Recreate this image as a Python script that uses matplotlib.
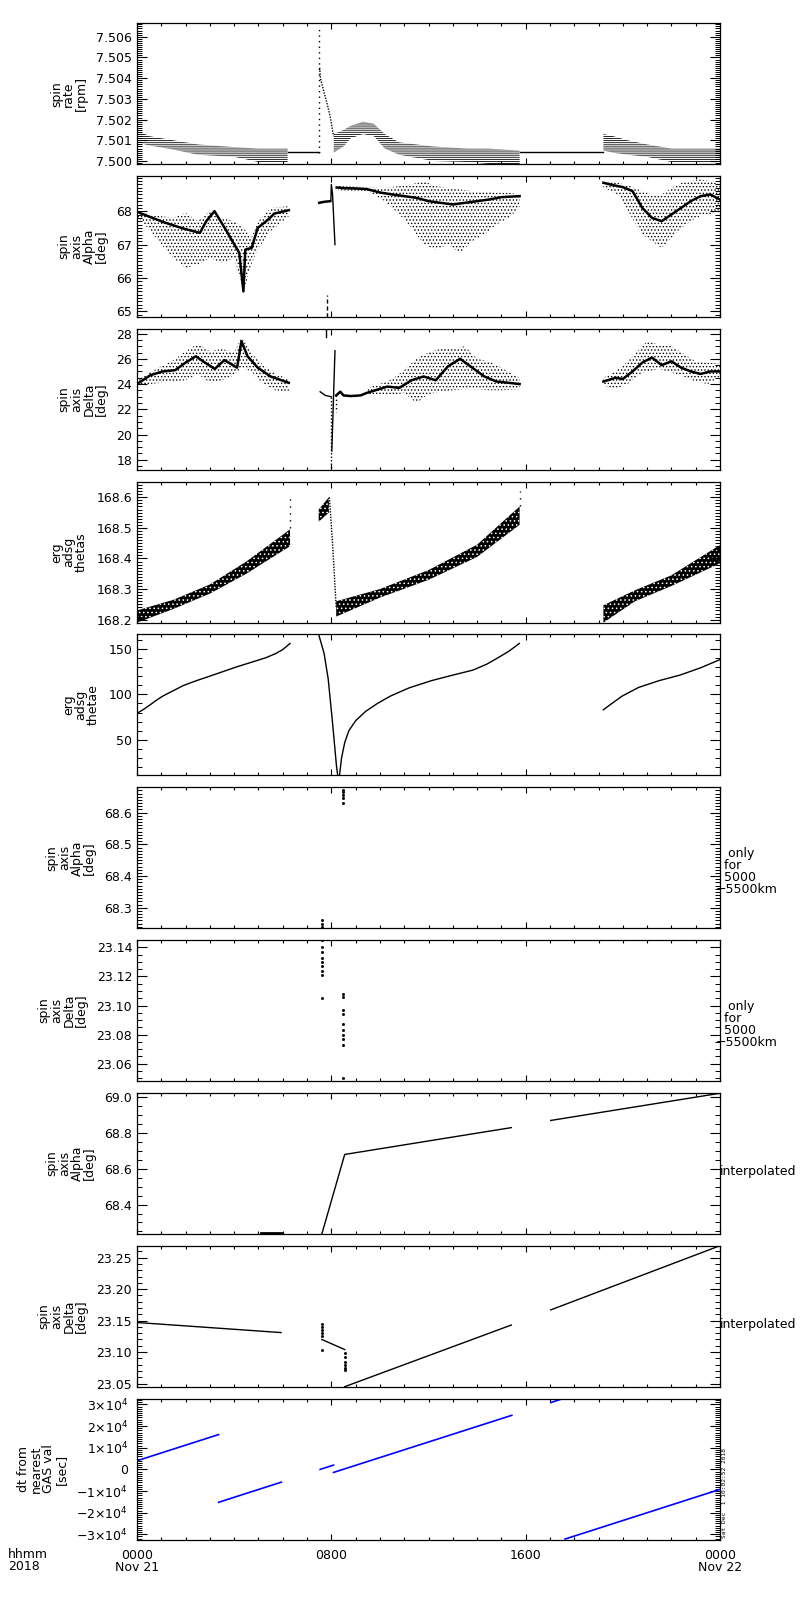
import matplotlib
matplotlib.use('Agg')
import matplotlib.pyplot as plt
from matplotlib.ticker import FixedLocator, MultipleLocator, FormatStrFormatter, FixedFormatter

plt.rcParams['font.family'] = ['DejaVu Sans']
plt.rcParams['font.size'] = 9
plt.rcParams['hatch.linewidth'] = 0.6
plt.rcParams['axes.linewidth'] = 0.9

# ---------------- time axis ----------------
x_major = [0, 8, 16, 24]
x_labels = ["0000\nNov 21", "0800", "1600", "0000\nNov 22"]

# ---------------- panel 1: spin rate ----------------
p1_a_t = [0, 0.5, 1.5, 2.5, 4.0, 5.0, 6.2]
p1_a_hi = [7.5015, 7.5012, 7.5010, 7.5008, 7.50067, 7.5006, 7.5006]
p1_a_lo = [7.5009, 7.50075, 7.50055, 7.5003, 7.5002, 7.49995, 7.4999]
p1_flat1_t = [6.2, 7.48]
p1_flat1_v = [7.50044, 7.50044]
p1_spike_t = [7.48, 7.48]
p1_spike_v = [7.5004, 7.5064]
p1_fall_t = [7.52, 7.55, 7.7, 7.82, 7.96, 8.09]
p1_fall_v = [7.5045, 7.5040, 7.5033, 7.5028, 7.5021, 7.5012]
p1_b_t = [8.1, 8.5, 8.8, 9.3, 9.75, 10.2, 10.8, 12.2, 13.6, 14.5, 15.75]
p1_b_hi = [7.5013, 7.5015, 7.5017, 7.5019, 7.5018, 7.5013, 7.5009, 7.5007, 7.5006, 7.5006, 7.5005]
p1_b_lo = [7.5004, 7.5007, 7.5011, 7.5013, 7.5012, 7.5006, 7.5003, 7.5000, 7.49995, 7.49985, 7.49985]
p1_flat2_t = [15.75, 19.2]
p1_flat2_v = [7.50044, 7.50044]
p1_c_t = [19.2, 19.6, 20.2, 21.0, 22.0, 23.0, 24.0]
p1_c_hi = [7.5013, 7.5012, 7.5010, 7.5008, 7.5006, 7.5006, 7.5006]
p1_c_lo = [7.5005, 7.5004, 7.5003, 7.5002, 7.49995, 7.4999, 7.4999]

# ---------------- panel 2: spin axis Alpha ----------------
p2_a_t = [0, 0.5, 1, 1.5, 2, 2.5, 3, 3.5, 4, 4.4, 4.7, 5, 5.5, 6.25]
p2_a_hi = [68.0, 67.9, 67.85, 67.8, 67.95, 67.7, 68.0, 67.8, 67.7, 67.5, 67.2, 67.7, 68.1, 68.15]
p2_a_lo = [67.85, 67.45, 67.0, 66.6, 66.3, 66.4, 66.6, 66.45, 66.6, 65.6, 66.4, 66.9, 67.4, 67.85]
p2_a_core_t = [0, 1.06, 1.91, 2.59, 2.85, 3.19, 3.61, 4.21, 4.38, 4.46, 4.72, 4.97, 5.32, 5.66, 6.25]
p2_a_core_v = [67.98, 67.68, 67.48, 67.35, 67.70, 68.0, 67.5, 66.75, 65.6, 66.85, 66.9, 67.5, 67.7, 67.93, 68.03]
p2_short_t = [7.5, 7.7, 7.95]
p2_short_v = [68.25, 68.28, 68.3]
p2_jump_t = [7.98, 8.0, 8.05, 8.15]
p2_jump_v = [68.3, 68.8, 68.5, 67.0]
p2_dash_t = [7.81, 7.81]
p2_dash_v = [64.83, 65.48]
p2_b_core_t = [8.22, 8.5, 9.0, 9.46, 10.0, 10.5, 11.0, 11.5, 12.0, 12.5, 13.0, 13.5, 14.0, 14.5, 15.0, 15.75]
p2_b_core_v = [68.71, 68.69, 68.68, 68.66, 68.56, 68.5, 68.45, 68.4, 68.3, 68.25, 68.2, 68.25, 68.3, 68.35, 68.42, 68.45]
p2_b_t = [8.3, 9.5, 10.2, 10.8, 11.3, 11.8, 12.3, 12.8, 13.3, 13.8, 14.3, 14.8, 15.3, 15.75]
p2_b_hi = [68.75, 68.72, 68.7, 68.75, 68.8, 68.9, 68.75, 68.7, 68.65, 68.6, 68.6, 68.55, 68.55, 68.5]
p2_b_lo = [68.62, 68.6, 68.3, 67.9, 67.5, 67.0, 66.85, 67.0, 66.75, 67.1, 67.3, 67.6, 67.8, 68.1]
p2_c_core_t = [19.2, 19.6, 20.0, 20.4, 20.8, 21.2, 21.6, 22.0, 22.4, 22.8, 23.2, 23.6, 24.0]
p2_c_core_v = [68.85, 68.78, 68.72, 68.6, 68.1, 67.8, 67.7, 67.9, 68.1, 68.3, 68.45, 68.5, 68.35]
p2_c_t = [19.2, 19.8, 20.3, 20.8, 21.2, 21.6, 22.0, 22.4, 22.8, 23.2, 23.6, 24.0]
p2_c_hi = [68.9, 68.85, 68.75, 68.6, 68.5, 68.5, 68.7, 68.85, 68.9, 68.95, 68.9, 68.8]
p2_c_lo = [68.7, 68.5, 67.9, 67.3, 67.1, 66.9, 67.2, 67.5, 67.7, 67.85, 67.9, 68.05]

# ---------------- panel 3: spin axis Delta ----------------
p3_a_core_t = [0, 0.55, 1.06, 1.57, 2.0, 2.42, 2.8, 3.2, 3.6, 4.12, 4.3, 4.55, 4.97, 5.5, 6.25]
p3_a_core_v = [24.0, 24.7, 25.0, 25.1, 25.7, 26.2, 25.7, 25.2, 25.9, 25.3, 27.4, 26.2, 25.3, 24.6, 24.1]
p3_a_t = [0, 0.5, 1.0, 1.5, 2.0, 2.5, 3.0, 3.5, 4.0, 4.3, 4.7, 5.2, 5.7, 6.25]
p3_a_hi = [24.3, 24.9, 25.4, 25.9, 26.6, 27.2, 26.6, 26.8, 26.5, 27.7, 26.5, 25.5, 24.8, 24.4]
p3_a_lo = [23.8, 24.0, 24.1, 24.2, 24.3, 24.8, 24.1, 24.3, 24.7, 25.3, 25.0, 24.0, 23.5, 23.4]
p3_short_t = [7.54, 7.75, 8.0]
p3_short_v = [23.39, 23.1, 22.99]
p3_drop_t = [7.99, 7.99]
p3_drop_v = [23.0, 17.2]
p3_rise_t = [8.02, 8.15]
p3_rise_v = [18.7, 26.64]
p3_top_t = [7.8, 7.8]
p3_top_v = [27.76, 28.37]
p3_dots_t = [8.2, 8.2]
p3_dots_v = [23.1, 21.8]
p3_b_core_t = [8.2, 8.37, 8.5, 8.8, 9.2, 9.46, 9.8, 10.3, 10.8, 11.3, 11.8, 12.3, 12.8, 13.3, 13.8, 14.3, 14.8, 15.3, 15.75]
p3_b_core_v = [23.1, 23.4, 23.1, 23.05, 23.1, 23.3, 23.5, 23.8, 23.7, 24.3, 24.6, 24.3, 25.4, 26.0, 25.3, 24.6, 24.2, 24.1, 24.0]
p3_b_t = [9.5, 10.0, 10.5, 11.0, 11.5, 12.0, 12.5, 13.0, 13.5, 14.0, 14.5, 15.0, 15.75]
p3_b_hi = [23.7, 24.0, 24.4, 25.1, 26.0, 26.5, 26.8, 26.8, 27.0, 26.0, 25.8, 25.3, 24.5]
p3_b_lo = [23.1, 23.2, 23.1, 23.3, 22.5, 23.2, 23.4, 23.5, 23.6, 23.6, 23.5, 23.5, 23.6]
p3_c_core_t = [19.2, 19.7, 20.0, 20.4, 20.8, 21.2, 21.6, 22.0, 22.4, 22.8, 23.2, 23.6, 24.0]
p3_c_core_v = [24.2, 24.5, 24.4, 25.0, 25.7, 26.1, 25.5, 25.8, 25.3, 25.0, 24.8, 25.0, 25.0]
p3_c_t = [19.2, 19.7, 20.2, 20.7, 21.0, 21.5, 22.0, 22.5, 23.0, 23.5, 24.0]
p3_c_hi = [24.5, 25.0, 25.8, 26.8, 27.4, 27.1, 27.0, 26.4, 25.8, 25.7, 25.6]
p3_c_lo = [23.9, 23.6, 24.0, 24.8, 25.0, 25.2, 24.9, 24.6, 24.2, 24.0, 24.6]

# ---------------- panel 4: erg adsg thetas ----------------
p4_a_t = [0, 1.5, 3.0, 4.5, 6.3]
p4_a_lo = [168.19, 168.235, 168.285, 168.35, 168.44]
p4_a_hi = [168.23, 168.265, 168.315, 168.39, 168.495]
p4_a_dots_t = [6.3, 6.3]
p4_a_dots_v = [168.5, 168.61]
p4_b_t = [7.48, 7.9]
p4_b_lo = [168.52, 168.55]
p4_b_hi = [168.56, 168.6]
p4_drop_t = [7.92, 8.05, 8.2]
p4_drop_v = [168.6, 168.45, 168.24]
p4_b2_t = [8.2, 10.0, 12.0, 14.0, 15.75]
p4_b2_lo = [168.21, 168.272, 168.33, 168.405, 168.51]
p4_b2_hi = [168.26, 168.30, 168.362, 168.445, 168.57]
p4_b2_dots_t = [15.78, 15.78]
p4_b2_dots_v = [168.57, 168.62]
p4_c_t = [19.2, 20.5, 22.0, 24.0]
p4_c_lo = [168.19, 168.26, 168.31, 168.384]
p4_c_hi = [168.247, 168.296, 168.345, 168.444]

# ---------------- panel 5: erg adsg thetae ----------------
p5_a_t = [0, 0.3, 0.55, 0.8, 1.06, 1.5, 1.9, 2.4, 2.9, 3.5, 4.1, 4.7, 5.3, 5.7, 6.0, 6.3]
p5_a_v = [79, 84, 88.6, 93.5, 98, 104, 109.5, 114.5, 119, 124.5, 130, 135, 140, 144.5, 149, 155.7]
p5_b_t = [7.48, 7.7, 7.87, 8.04, 8.21, 8.3, 8.42, 8.55, 8.72, 9.0, 9.4, 9.9, 10.43, 11.2,
          12.13, 13.0, 13.83, 14.4, 14.86, 15.3, 15.74]
p5_b_v = [165.5, 145, 117, 71.6, 22, 3, 30, 47, 60, 71, 81, 90, 98, 107,
          115, 121, 126.5, 133, 140, 147, 155.7]
p5_c_t = [19.2, 19.5, 19.97, 20.65, 21.5, 22.35, 23.2, 24.0]
p5_c_v = [83, 89, 98, 107.5, 115, 121, 129, 138]

# ---------------- panel 6: Alpha only for 5000-5500 km ----------------
p6_t = [7.63, 7.63, 7.63, 8.49, 8.49, 8.49, 8.49, 8.5]
p6_v = [68.24, 68.25, 68.26, 68.63, 68.645, 68.655, 68.665, 68.672]

# ---------------- panel 7: Delta only for 5000-5500 km ----------------
p7_t = [7.63, 7.63, 7.63, 7.63, 7.63, 7.63, 7.63, 7.63, 7.63,
        8.5, 8.5, 8.5, 8.5, 8.5, 8.5, 8.5, 8.5, 8.5, 8.5]
p7_v = [23.145, 23.14, 23.137, 23.133, 23.13, 23.127, 23.124, 23.121, 23.105,
        23.108, 23.106, 23.097, 23.094, 23.087, 23.083, 23.080, 23.077, 23.073, 23.05]

# ---------------- panel 8: Alpha interpolated ----------------
p8_s1_t = [5.1, 5.93]
p8_s1_v = [68.24, 68.24]
p8_s2_t = [7.61, 8.55, 15.41]
p8_s2_v = [68.236, 68.68, 68.83]
p8_s3_t = [17.03, 24.0]
p8_s3_v = [68.87, 69.022]

# ---------------- panel 9: Delta interpolated ----------------
p9_s1_t = [0, 5.93]
p9_s1_v = [23.147, 23.131]
p9_d1_t = [7.61, 7.61, 7.61, 7.61, 7.61, 7.61]
p9_d1_v = [23.145, 23.14, 23.135, 23.13, 23.125, 23.104]
p9_s2_t = [7.61, 8.55]
p9_s2_v = [23.12, 23.104]
p9_d2_t = [8.55, 8.55, 8.55, 8.55, 8.55, 8.55]
p9_d2_v = [23.098, 23.092, 23.085, 23.08, 23.075, 23.071]
p9_s3_t = [8.55, 15.41]
p9_s3_v = [23.045, 23.143]
p9_s4_t = [17.03, 24.0]
p9_s4_v = [23.167, 23.269]

# ---------------- panel 10: dt from nearest GAS val ----------------
p10_segs_t = [[0, 3.36], [3.36, 5.94], [7.54, 8.09], [8.09, 15.43], [17.04, 17.5], [17.62, 24.0]]
p10_segs_v = [[4000, 16100], [-15200, -5900], [0, 1980], [-1400, 25000], [30900, 32600], [-32200, -9230]]
p10_ticks = [-30000, -20000, -10000, 0, 10000, 20000, 30000]
p10_labels = ['−3×10$^{4}$', '−2×10$^{4}$', '−1×10$^{4}$', '0',
              '1×10$^{4}$', '2×10$^{4}$', '3×10$^{4}$']

# ---------------- y-axis setup per panel ----------------
ylabels = ["spin\nrate\n[rpm]", "spin\naxis\nAlpha\n[deg]", "spin\naxis\nDelta\n[deg]",
           "erg\nadsg\nthetas", "erg\nadsg\nthetae", "spin\naxis\nAlpha\n[deg]",
           "spin\naxis\nDelta\n[deg]", "spin\naxis\nAlpha\n[deg]", "spin\naxis\nDelta\n[deg]",
           "dt from\nnearest\nGAS val\n[sec]"]
ylims = [(7.49984, 7.50665), (64.83, 69.05), (17.2, 28.37), (168.19, 168.651), (11, 165.5),
         (68.235, 68.68), (23.048, 23.145), (68.236, 69.024), (23.045, 23.269), (-32400, 32770)]
yticks = [[7.500, 7.501, 7.502, 7.503, 7.504, 7.505, 7.506], [65, 66, 67, 68],
          [18, 20, 22, 24, 26, 28], [168.2, 168.3, 168.4, 168.5, 168.6], [50, 100, 150],
          [68.3, 68.4, 68.5, 68.6], [23.06, 23.08, 23.10, 23.12, 23.14],
          [68.4, 68.6, 68.8, 69.0], [23.05, 23.10, 23.15, 23.20, 23.25], p10_ticks]
yminor = [0.0001, 0.1, 0.5, 0.01, 10, 0.01, 0.005, 0.05, 0.01, 1000]
yfmt = ['%.3f', '%d', '%d', '%.1f', '%d', '%.1f', '%.2f', '%.1f', '%.2f', None]

fig = plt.figure(figsize=(8, 16), dpi=100)
W, H = 800.0, 1600.0
axes = []
for i in range(10):
    top = 23.3 + 152.8 * i
    h = 141.0
    ax = fig.add_axes([137 / W, 1 - (top + h) / H, 583 / W, h / H])
    ax.set_xlim(0, 24)
    ax.set_ylim(*ylims[i])
    ax.xaxis.set_major_locator(FixedLocator(x_major))
    ax.xaxis.set_minor_locator(MultipleLocator(1))
    ax.yaxis.set_major_locator(FixedLocator(yticks[i]))
    ax.yaxis.set_minor_locator(MultipleLocator(yminor[i]))
    ax.tick_params(which='both', direction='in', top=True, right=True, width=0.8, pad=3.5)
    ax.tick_params(axis='y', which='major', length=7.2)
    ax.tick_params(axis='y', which='minor', length=3.6, width=0.7)
    ax.tick_params(axis='x', which='major', length=4.5)
    ax.tick_params(axis='x', which='minor', length=2.4)
    ax.tick_params(labelbottom=False)
    if yfmt[i] is not None:
        ax.yaxis.set_major_formatter(FormatStrFormatter(yfmt[i]))
    else:
        ax.yaxis.set_major_formatter(FixedFormatter(p10_labels))
    ax.set_ylabel(ylabels[i], linespacing=0.95, labelpad=6)
    axes.append(ax)

K = 'black'
LW = 1.0
CORE = 1.8


def cloud(ax, t, lo, hi, hatch):
    ax.fill_between(t, lo, hi, facecolor='none', edgecolor=K, hatch=hatch, linewidth=0)


# panel 1
ax = axes[0]
cloud(ax, p1_a_t, p1_a_lo, p1_a_hi, '--------')
cloud(ax, p1_b_t, p1_b_lo, p1_b_hi, '--------')
cloud(ax, p1_c_t, p1_c_lo, p1_c_hi, '--------')
ax.plot(p1_flat1_t, p1_flat1_v, color=K, lw=LW)
ax.plot(p1_flat2_t, p1_flat2_v, color=K, lw=LW)
ax.plot(p1_spike_t, p1_spike_v, color=K, lw=LW, ls=(0, (1, 3)))
ax.plot(p1_fall_t, p1_fall_v, color=K, lw=LW, ls=(0, (1, 1)))

# panel 2
ax = axes[1]
cloud(ax, p2_a_t, p2_a_lo, p2_a_hi, '.....')
cloud(ax, p2_b_t, p2_b_lo, p2_b_hi, '.....')
cloud(ax, p2_c_t, p2_c_lo, p2_c_hi, '.....')
ax.plot(p2_a_core_t, p2_a_core_v, color=K, lw=CORE)
ax.plot(p2_b_core_t, p2_b_core_v, color=K, lw=CORE)
ax.plot(p2_c_core_t, p2_c_core_v, color=K, lw=CORE)
ax.plot(p2_short_t, p2_short_v, color=K, lw=CORE)
ax.plot(p2_jump_t, p2_jump_v, color=K, lw=LW)
ax.plot(p2_dash_t, p2_dash_v, color=K, lw=LW, ls=(0, (3, 2)))

# panel 3
ax = axes[2]
cloud(ax, p3_a_t, p3_a_lo, p3_a_hi, '.....')
cloud(ax, p3_b_t, p3_b_lo, p3_b_hi, '.....')
cloud(ax, p3_c_t, p3_c_lo, p3_c_hi, '.....')
ax.plot(p3_a_core_t, p3_a_core_v, color=K, lw=CORE)
ax.plot(p3_b_core_t, p3_b_core_v, color=K, lw=CORE)
ax.plot(p3_c_core_t, p3_c_core_v, color=K, lw=CORE)
ax.plot(p3_short_t, p3_short_v, color=K, lw=LW)
ax.plot(p3_drop_t, p3_drop_v, color=K, lw=LW, ls=(0, (1, 1.5)))
ax.plot(p3_rise_t, p3_rise_v, color=K, lw=LW)
ax.plot(p3_top_t, p3_top_v, color=K, lw=LW)
ax.plot(p3_dots_t, p3_dots_v, color=K, lw=LW, ls=(0, (1, 2)))

# panel 4
ax = axes[3]
for t, lo, hi in [(p4_a_t, p4_a_lo, p4_a_hi), (p4_b_t, p4_b_lo, p4_b_hi),
                  (p4_b2_t, p4_b2_lo, p4_b2_hi), (p4_c_t, p4_c_lo, p4_c_hi)]:
    ax.fill_between(t, lo, hi, facecolor=K, edgecolor='white', hatch='....', linewidth=0)
ax.plot(p4_a_dots_t, p4_a_dots_v, color=K, lw=LW, ls=(0, (1, 4)))
ax.plot(p4_b2_dots_t, p4_b2_dots_v, color=K, lw=LW, ls=(0, (1, 4)))
ax.plot(p4_drop_t, p4_drop_v, color=K, lw=LW, ls=(0, (1, 1)))

# panel 5
ax = axes[4]
ax.plot(p5_a_t, p5_a_v, color=K, lw=LW)
ax.plot(p5_b_t, p5_b_v, color=K, lw=LW)
ax.plot(p5_c_t, p5_c_v, color=K, lw=LW)

# panel 6 / 7
axes[5].plot(p6_t, p6_v, ls='none', marker='s', ms=1.0, color=K)
axes[6].plot(p7_t, p7_v, ls='none', marker='s', ms=1.0, color=K)

# panel 8
ax = axes[7]
ax.plot(p8_s1_t, p8_s1_v, color=K, lw=2.0)
ax.plot(p8_s2_t, p8_s2_v, color=K, lw=LW)
ax.plot(p8_s3_t, p8_s3_v, color=K, lw=LW)

# panel 9
ax = axes[8]
ax.plot(p9_s1_t, p9_s1_v, color=K, lw=LW)
ax.plot(p9_d1_t, p9_d1_v, ls='none', marker='s', ms=1.0, color=K)
ax.plot(p9_s2_t, p9_s2_v, color=K, lw=LW)
ax.plot(p9_d2_t, p9_d2_v, ls='none', marker='s', ms=1.0, color=K)
ax.plot(p9_s3_t, p9_s3_v, color=K, lw=LW)
ax.plot(p9_s4_t, p9_s4_v, color=K, lw=LW)

# panel 10
ax = axes[9]
for t, v in zip(p10_segs_t, p10_segs_v):
    ax.plot(t, v, color='#0000ff', lw=1.2)
ax.tick_params(labelbottom=True, pad=6.5)
ax.xaxis.set_major_formatter(FixedFormatter(x_labels))
for lbl in ax.get_xticklabels():
    lbl.set_linespacing(0.95)

# right-side notes
for i in (5, 6):
    axes[i].text(1 - 4 / 583, 0.40, "   only\n  for\n  5000\n−5500km", transform=axes[i].transAxes,
                 ha='left', va='center', linespacing=0.9, multialignment='left')
for i in (7, 8):
    axes[i].text(1.0, 0.44, "interpolated", transform=axes[i].transAxes, ha='left', va='center')

fig.text(8 / W, 1 - 1548 / H, "hhmm\n2018", ha='left', va='top', linespacing=0.95)
fig.text(722.5 / W, 1 - 1538 / H, "Sat Dec  1 10:02:52 2018", rotation=90, ha='left', va='bottom',
         fontsize=4.5, family='DejaVu Sans Mono')

fig.savefig('out.png', dpi=100)
